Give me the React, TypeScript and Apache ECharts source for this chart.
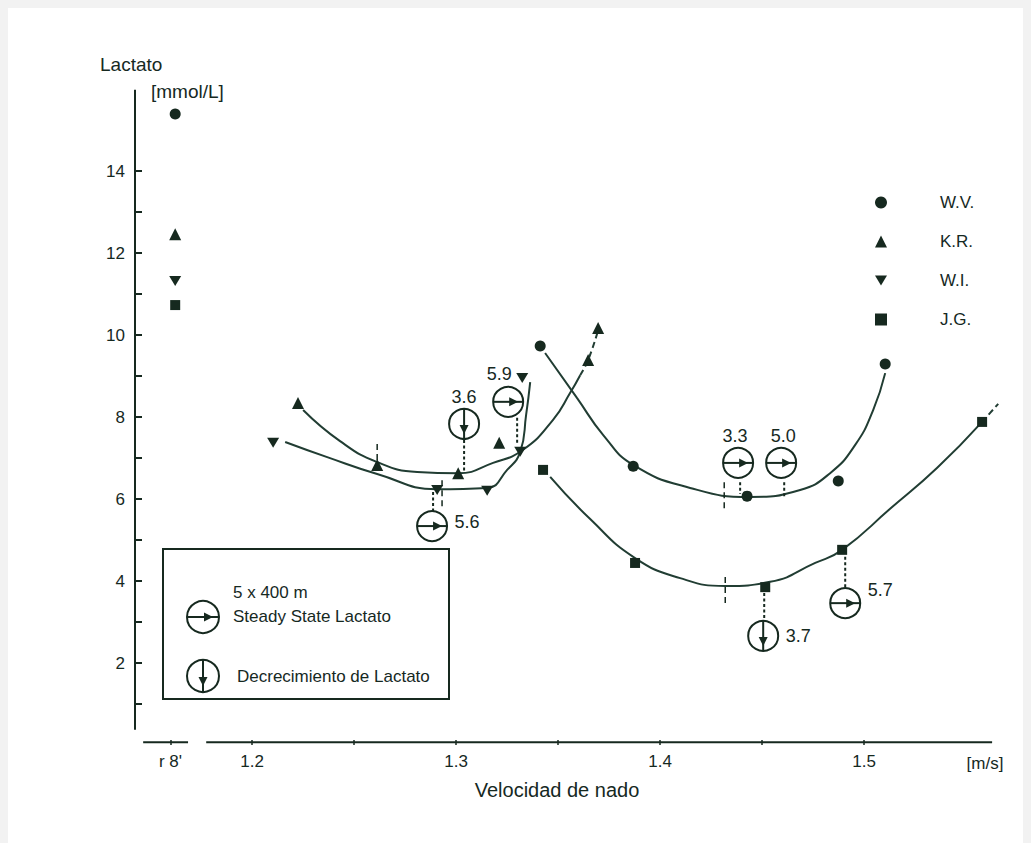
import React, { useEffect, useRef } from "react";
import * as echarts from "echarts";

const INK = "#16291f";
const CURVE = "#213d33";
const FONT = "'Liberation Sans', Arial, Helvetica, sans-serif";

// ---- axis ticks ----
const X_TICKS = [1.16, 1.2, 1.25, 1.3, 1.35, 1.4, 1.45, 1.5];
const X_LABELS = [1.16, 1.2, 1.3, 1.4, 1.5];
const Y_TICKS = [1, 2, 3, 4, 5, 6, 7, 8, 9, 10, 11, 12, 13, 14];
const R8 = 1.16; // "r 8'" rest position on the speed axis

// ---- measured points (speed m/s, lactate mmol/L) ----
const WV_POINTS = [[1.1623, 15.39], [1.3412, 9.73], [1.3868, 6.8], [1.4426, 6.07], [1.4873, 6.44], [1.5103, 9.29]];
const KR_POINTS = [[1.1623, 12.46], [1.2225, 8.34], [1.2613, 6.83], [1.301, 6.63], [1.3211, 7.37], [1.3647, 9.39], [1.3696, 10.17]];
const WI_POINTS = [[1.1623, 11.32], [1.2103, 7.37], [1.2907, 6.22], [1.3152, 6.2], [1.3314, 7.15], [1.3324, 8.95]];
const JG_POINTS = [[1.1623, 10.73], [1.3426, 6.71], [1.3877, 4.44], [1.4515, 3.85], [1.4892, 4.76], [1.5578, 7.88]];

// ---- fitted curves ----
const WV_CURVE = [[1.3436, 9.56], [1.3593, 8.46], [1.3721, 7.56], [1.3868, 6.83], [1.4147, 6.27], [1.4441, 6.05], [1.4686, 6.22], [1.4833, 6.63], [1.4956, 7.32], [1.5044, 8.17], [1.5103, 9.07]];
const KR_CURVE = [[1.225, 8.17], [1.2431, 7.41], [1.2613, 6.9], [1.2809, 6.66], [1.301, 6.63], [1.3181, 6.88], [1.3328, 7.2], [1.3475, 7.93], [1.3559, 8.59], [1.3608, 9.02]];
const KR_CURVE_EXT = [[1.3608, 9.02], [1.3647, 9.39], [1.3696, 10.12]];
const WI_CURVE = [[1.2162, 7.39], [1.2368, 7.02], [1.2613, 6.61], [1.2907, 6.24], [1.3152, 6.27], [1.325, 6.71], [1.3314, 7.15], [1.3343, 8.05], [1.3363, 8.85]];
const JG_CURVE = [[1.3461, 6.54], [1.3657, 5.51], [1.3877, 4.56], [1.4098, 4.07], [1.4319, 3.88], [1.4539, 3.98], [1.4760, 4.44], [1.4892, 4.76], [1.5127, 5.76], [1.5358, 6.76], [1.5578, 7.88]];
const JG_CURVE_EXT = [[1.5578, 7.88], [1.5657, 8.32]];

// ---- 5 x 400 m annotations ----
const ANN_X = [1.3039, 1.3255, 1.2882, 1.4382, 1.4593, 1.4907, 1.4505];
const ANN_Y = [7.83, 8.37, 5.34, 6.88, 6.88, 3.46, 2.66];
const ANN_KIND = ["decrease", "steady", "steady", "steady", "steady", "steady", "decrease"];
const ANN_TEXT = ["3.6", "5.9", "5.6", "3.3", "5.0", "5.7", "3.7"];
const ANN_LABEL_OFFSET = [[0, -27], [-9, -28], [35, -4], [-3, -27], [2, -27], [35, -13], [35, 0]];

// dotted connectors between circle and curve: [x, yFrom, yTo]
const CONNECTORS = [[1.3039, 7.44, 6.68], [1.3299, 7.98, 7.32], [1.2887, 6.17, 5.71], [1.4392, 6.41, 6.12], [1.4608, 6.41, 6.05], [1.4907, 4.59, 3.83], [1.451, 3.71, 3.02]];
// dashed marks crossing the curves (curve minima)
const MARKS = [[1.2613, 7.34, 6.71], [1.2931, 6.46, 5.8], [1.4314, 6.41, 5.68], [1.4319, 4.1, 3.37]];

// axis line segments (broken x axis)
const X_AXIS_LEFT = [[1.1466, 0.07], [1.1686, 0.07]];
const X_AXIS_RIGHT = [[1.1775, 0.07], [1.5627, 0.07]];
const Y_AXIS_LINE = [[1.1426, 0.37], [1.1426, 15.98]];

const curveSeries = (name: string, data: number[][], dashed = false) => ({
  name,
  type: "line",
  data,
  smooth: 0.5,
  symbol: "none",
  silent: true,
  z: 3,
  lineStyle: { color: CURVE, width: 2, type: dashed ? [6, 4] : "solid" },
});

const axisSeries = (name: string, data: number[][]) => ({
  name,
  type: "line",
  data,
  symbol: "none",
  silent: true,
  clip: false,
  z: 2,
  lineStyle: { color: INK, width: 2 },
});

const markerStyle = { color: INK, opacity: 1 };

function circleIcon(cx: number, cy: number, r: number, kind: string) {
  const els: any[] = [
    { type: "circle", shape: { cx, cy, r }, style: { fill: "#fff", stroke: INK, lineWidth: 2 } },
  ];
  if (kind === "steady") {
    els.push({ type: "line", shape: { x1: cx - r, y1: cy, x2: cx + r, y2: cy }, style: { stroke: INK, lineWidth: 2 } });
    els.push({ type: "polygon", shape: { points: [[cx + 1, cy - 4.5], [cx + 10, cy], [cx + 1, cy + 4.5]] }, style: { fill: INK } });
  } else {
    els.push({ type: "line", shape: { x1: cx, y1: cy - r, x2: cx, y2: cy + r }, style: { stroke: INK, lineWidth: 2 } });
    els.push({ type: "polygon", shape: { points: [[cx - 4.5, cy + 1], [cx, cy + 10], [cx + 4.5, cy + 1]] }, style: { fill: INK } });
  }
  return els;
}

export default function App() {
  const ref = useRef<HTMLDivElement>(null);
  useEffect(() => {
    document.body.style.background = "#f2f2f2";
    const chart = echarts.init(ref.current!, null, { renderer: "svg" });
    const option: any = {
      animation: false,
      backgroundColor: "#ffffff",
      textStyle: { fontFamily: FONT },
      grid: { left: 127, top: 81, width: 872, height: 656 },
      xAxis: {
        type: "value",
        min: 1.1426,
        max: 1.57,
        axisLine: { show: false },
        splitLine: { show: false },
        axisTick: { show: true, inside: true, length: 5, customValues: X_TICKS, lineStyle: { color: INK, width: 1.5 } },
        axisLabel: {
          customValues: X_LABELS,
          formatter: (v: number) => (Math.abs(v - R8) < 0.005 ? "r 8'" : v.toFixed(1)),
          color: INK,
          fontSize: 17,
          fontFamily: FONT,
          margin: 8,
        },
      },
      yAxis: {
        type: "value",
        min: 0,
        max: 16,
        interval: 2,
        axisLine: { show: false },
        splitLine: { show: false },
        axisTick: { show: true, inside: true, length: 7, customValues: Y_TICKS, lineStyle: { color: INK, width: 2 } },
        axisLabel: {
          formatter: (v: number) => (v === 0 || v === 16 ? "" : String(v)),
          color: INK,
          fontSize: 17,
          fontFamily: FONT,
          margin: 10,
        },
      },
      legend: {
        data: ["W.V.", "K.R.", "W.I.", "J.G."],
        orient: "vertical",
        left: 862,
        top: 181,
        itemWidth: 12,
        itemHeight: 12,
        itemGap: 22,
        selectedMode: false,
        itemStyle: { opacity: 1 },
        textStyle: { color: INK, fontSize: 17, fontFamily: FONT, padding: [0, 0, 0, 48] },
      },
      series: [
        axisSeries("axis-x-left", X_AXIS_LEFT),
        axisSeries("axis-x-right", X_AXIS_RIGHT),
        axisSeries("axis-y", Y_AXIS_LINE),
        curveSeries("curve-wv", WV_CURVE),
        curveSeries("curve-kr", KR_CURVE),
        curveSeries("curve-kr-ext", KR_CURVE_EXT, true),
        curveSeries("curve-wi", WI_CURVE),
        curveSeries("curve-jg", JG_CURVE),
        curveSeries("curve-jg-ext", JG_CURVE_EXT, true),
        {
          name: "connectors",
          type: "custom",
          data: CONNECTORS,
          encode: { x: 0, y: [1, 2] },
          silent: true,
          z: 4,
          renderItem: (params: any, api: any) => {
            const a = api.coord([api.value(0), api.value(1)]);
            const b = api.coord([api.value(0), api.value(2)]);
            return { type: "line", shape: { x1: a[0], y1: a[1], x2: b[0], y2: b[1] }, style: { stroke: INK, lineWidth: 2, lineDash: [3, 2.5] } };
          },
        },
        {
          name: "marks",
          type: "custom",
          data: MARKS,
          encode: { x: 0, y: [1, 2] },
          silent: true,
          z: 4,
          renderItem: (params: any, api: any) => {
            const a = api.coord([api.value(0), api.value(1)]);
            const b = api.coord([api.value(0), api.value(2)]);
            return { type: "line", shape: { x1: a[0], y1: a[1], x2: b[0], y2: b[1] }, style: { stroke: INK, lineWidth: 1.5, lineDash: [6, 4] } };
          },
        },
        {
          name: "annotations",
          type: "custom",
          data: ANN_X.map((x, i) => [x, ANN_Y[i]]),
          silent: true,
          z: 6,
          renderItem: (params: any, api: any) => {
            const i = params.dataIndex;
            const c = api.coord([api.value(0), api.value(1)]);
            const off = ANN_LABEL_OFFSET[i];
            return {
              type: "group",
              children: [
                ...circleIcon(c[0], c[1], 15, ANN_KIND[i]),
                {
                  type: "text",
                  x: c[0] + off[0],
                  y: c[1] + off[1],
                  style: { text: ANN_TEXT[i], fill: INK, fontSize: 18, fontFamily: FONT, align: "center", verticalAlign: "middle" },
                },
              ],
            };
          },
        },
        { name: "W.V.", type: "scatter", data: WV_POINTS, symbol: "circle", symbolSize: 11, itemStyle: markerStyle, z: 7 },
        { name: "K.R.", type: "scatter", data: KR_POINTS, symbol: "triangle", symbolSize: 12, itemStyle: markerStyle, z: 7 },
        { name: "W.I.", type: "scatter", data: WI_POINTS, symbol: "path://M0,0L12,0L6,10Z", symbolSize: [12, 10], itemStyle: markerStyle, z: 7 },
        { name: "J.G.", type: "scatter", data: JG_POINTS, symbol: "rect", symbolSize: 10, itemStyle: markerStyle, z: 7 },
      ],
      graphic: [
        { type: "text", x: 92, y: 56, style: { text: "Lactato", fill: INK, fontSize: 19, fontFamily: FONT, verticalAlign: "middle" } },
        { type: "text", x: 143, y: 83, style: { text: "[mmol/L]", fill: INK, fontSize: 19, fontFamily: FONT, verticalAlign: "middle" } },
        { type: "text", x: 549, y: 782, style: { text: "Velocidad de nado", fill: INK, fontSize: 20, fontFamily: FONT, align: "center", verticalAlign: "middle" } },
        { type: "text", x: 977, y: 755, style: { text: "[m/s]", fill: INK, fontSize: 17, fontFamily: FONT, align: "center", verticalAlign: "middle" } },
        {
          type: "group",
          children: [
            { type: "rect", shape: { x: 155, y: 541, width: 286, height: 150 }, style: { fill: "#fff", stroke: INK, lineWidth: 2 } },
            { type: "text", x: 225, y: 584, style: { text: "5 x 400 m", fill: INK, fontSize: 17, fontFamily: FONT, verticalAlign: "middle" } },
            { type: "text", x: 225, y: 608, style: { text: "Steady State Lactato", fill: INK, fontSize: 17, fontFamily: FONT, verticalAlign: "middle" } },
            { type: "text", x: 229, y: 668, style: { text: "Decrecimiento de Lactato", fill: INK, fontSize: 17, fontFamily: FONT, verticalAlign: "middle" } },
            ...circleIcon(195, 609, 16, "steady"),
            ...circleIcon(195, 668, 16, "decrease"),
          ],
        },
      ],
    };
    chart.setOption(option);
    return () => chart.dispose();
  }, []);
  return <div ref={ref} style={{ width: 1031, height: 843, background: "#fff" }} />;
}
